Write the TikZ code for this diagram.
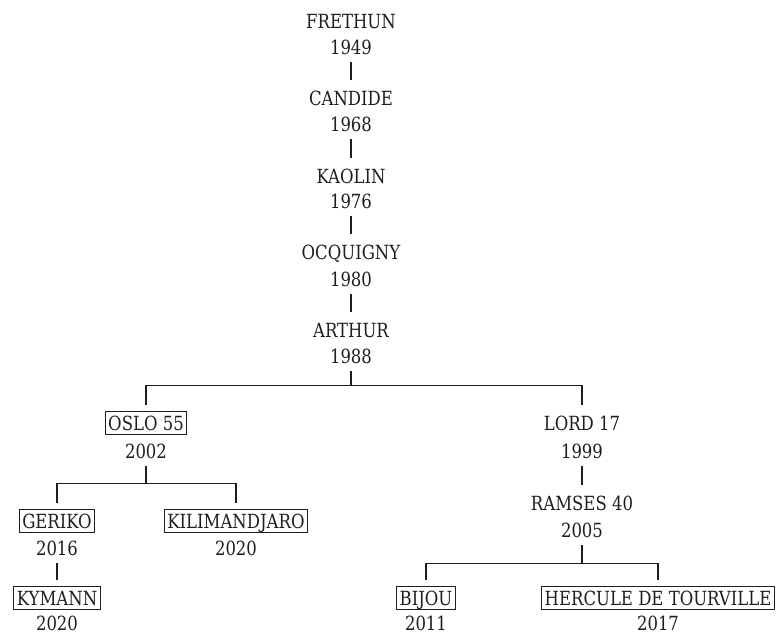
\documentclass[tikz,border=0pt]{standalone}
\usepackage{fontspec}
\setmainfont[FakeStretch=0.94]{DejaVu Serif Condensed}
\definecolor{ink}{HTML}{1E1E1E}
\begin{document}
\begin{tikzpicture}[x=1pt,y=-1pt,
  horse/.style={font=\fontsize{19.5}{19.5}\selectfont, text=ink, inner xsep=3pt, inner ysep=4.5pt, outer sep=6pt, text height=14.2pt, text depth=0pt},
  boxed/.style={horse, draw=ink, line width=1.1pt},
  yr/.style={font=\fontsize{19.5}{19.5}\selectfont, text=ink, inner sep=0pt, outer ysep=8pt, text height=14.2pt, text depth=0pt},
  link/.style={draw=ink, line width=1.2pt}]
\useasboundingbox (0,0) rectangle (781,634);
% main line
\node[horse] (fre) at (351,21) {FRETHUN};
\node[yr] (fre-y) at (351,47) {1949};
\node[horse] (can) at (351,98) {CANDIDE};
\node[yr] (can-y) at (351,124) {1968};
\node[horse] (kao) at (351,176) {KAOLIN};
\node[yr] (kao-y) at (351,201) {1976};
\node[horse] (ocq) at (351,252) {OCQUIGNY};
\node[yr] (ocq-y) at (351,279) {1980};
\node[horse] (art) at (351,330) {ARTHUR};
\node[yr] (art-y) at (351,356) {1988};
% left branch
\node[boxed] (osl) at (146,423) {OSLO 55};
\node[yr] (osl-y) at (146,451) {2002};
\node[boxed] (ger) at (57,521) {GERIKO};
\node[yr] (ger-y) at (57,548) {2016};
\node[boxed] (kil) at (236,521) {KILIMANDJARO};
\node[yr] (kil-y) at (236,548) {2020};
\node[boxed] (kym) at (57,598) {KYMANN};
\node[yr] (kym-y) at (57,623) {2020};
% right branch
\node[horse] (lor) at (582,423) {LORD 17};
\node[yr] (lor-y) at (582,451) {1999};
\node[horse] (ram) at (582,503) {RAMSES 40};
\node[yr] (ram-y) at (582,530) {2005};
\node[boxed] (bij) at (426,598) {BIJOU};
\node[yr] (bij-y) at (426,623) {2011};
\node[boxed] (her) at (658,598) {HERCULE DE TOURVILLE};
\node[yr] (her-y) at (658,623) {2017};
% connectors
\draw[link] (fre-y.south) -- (can.north);
\draw[link] (can-y.south) -- (kao.north);
\draw[link] (kao-y.south) -- (ocq.north);
\draw[link] (ocq-y.south) -- (art.north);
\draw[link] (art-y.south) -- ++(0,14) coordinate (ab);
\draw[link] (osl.north) |- (ab) -| (lor.north);
\draw[link] (osl-y.south) -- ++(0,17) coordinate (ob);
\draw[link] (ger.north) |- (ob) -| (kil.north);
\draw[link] (ger-y.south) -- (kym.north);
\draw[link] (lor-y.south) -- (ram.north);
\draw[link] (ram-y.south) -- ++(0,18) coordinate (rb);
\draw[link] (bij.north) |- (rb) -| (her.north);
\end{tikzpicture}
\end{document}
